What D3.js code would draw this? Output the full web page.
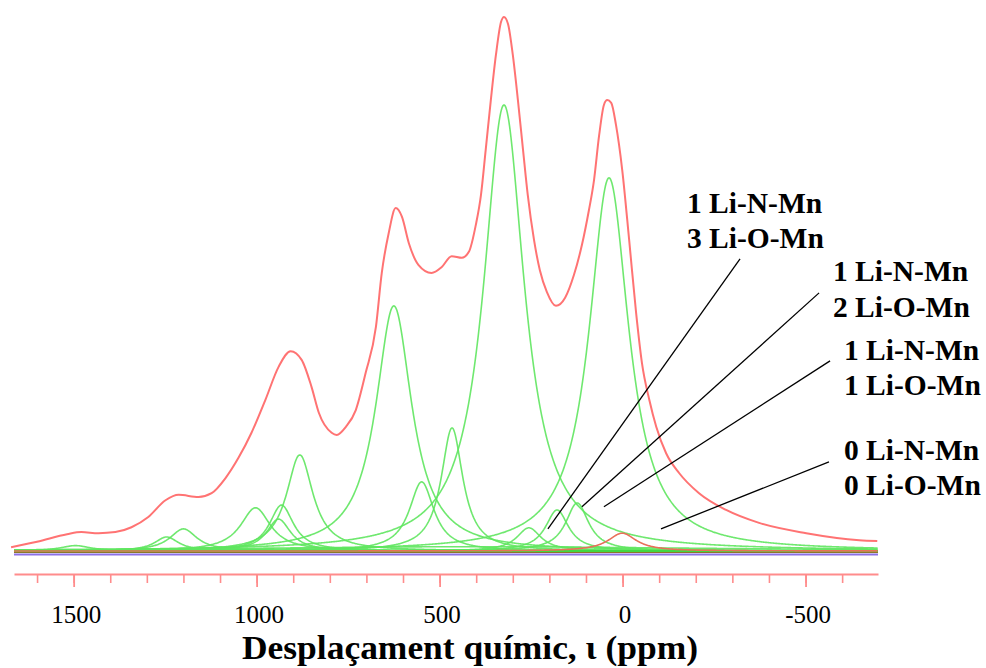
<!DOCTYPE html>
<html>
<head>
<meta charset="utf-8">
<script src="https://cdn.jsdelivr.net/npm/d3@7"></script>
<style>
  html, body { margin: 0; padding: 0; background: #fff; }
  svg { display: block; }
</style>
</head>
<body>
<svg id="chart" width="986" height="668"></svg>
<script>
// ---------- DATA ----------
// Axis extent (ppm) and tick values
const axisStart = 1663;
const axisEnd = -698;
const majorTicks = [1500, 1000, 500, 0, -500];
const minorTicks = d3.range(-600, 1601, 100);

// Experimental / total envelope (red): chemical shift (ppm) and intensity
const envelopePpm = [1671, 1600, 1518, 1479, 1432, 1386, 1342, 1296, 1249, 1213, 1159, 1123, 1085, 1050, 1014,
  976, 940, 907, 877, 850, 830, 795, 781, 756, 729, 702, 674, 658, 639, 620, 603, 584, 558, 522, 494, 467, 439,
  420, 401, 387, 374, 360, 346, 332, 324, 313, 300, 286, 272, 259, 242, 226, 207, 182, 157, 133, 111, 92, 78,
  64, 51, 42, 31, 18, 1, -18, -37, -53, -73, -92, -119, -155, -209, -283, -373, -502, -647, -696];
const envelopeIntensity = [0.7, 1.7, 3.1, 3.5, 3.3, 3.5, 4.4, 6.3, 9.4, 10.4, 10.0, 10.7, 13.5, 17.2, 21.9,
  28.0, 34.1, 37.0, 35.4, 30.4, 25.6, 21.9, 21.5, 23.0, 26.1, 33.0, 41.5, 51.5, 58.9, 63.5, 61.9, 57.0, 53.0, 51.5, 52.6, 54.6, 54.3,
  55.4, 60.4, 65.9, 74.3, 83.5, 91.9, 98.0, 98.9, 97.6, 91.9, 83.5, 74.3, 65.9, 57.6, 52.0, 48.0, 45.4, 46.9, 51.1, 56.7, 63.1, 68.7,
  77.0, 82.6, 83.5, 83.0, 78.9, 70.6, 57.6, 44.1, 34.8, 28.0, 23.0, 18.1, 14.4, 10.7, 7.6, 5.2, 3.3, 2.0, 1.85];

// Fitted components (green): centre (ppm), height, half width (ppm)
const compCenter = [324, 37, 625, 466, 882, 549, 1003, 932, 940, 1200, 1246, 1495, 124, 179, 256, 400];
const compHeight = [82.6, 69.1, 45.4, 22.8, 17.8, 12.8, 8.0, 8.5, 5.9, 4.1, 2.6, 1.0, 8.9, 7.6, 4.3, 0.8];
const compWidth  = [68, 66, 60, 36, 44, 41, 50, 40, 40, 45, 40, 50, 38, 38, 40, 800];

// Component for 0 Li-N-Mn / 0 Li-O-Mn (red)
const zeroCenter = [1];
const zeroHeight = [3.3];
const zeroWidth  = [47];

// Annotations
const labelLine1 = ["1 Li-N-Mn", "1 Li-N-Mn", "1 Li-N-Mn", "0 Li-N-Mn"];
const labelLine2 = ["3 Li-O-Mn", "2 Li-O-Mn", "1 Li-O-Mn", "0 Li-O-Mn"];
const labelPpm = [-176, -575, -605, -605];
const labelInt = [62.6, 50.0, 35.4, 16.9];
const leaderFromPpm = [-321, -537, -567, -564];
const leaderFromInt = [54.1, 47.8, 35.2, 16.5];
const leaderToPpm = [204, 111, 51, -105];
const leaderToInt = [4.1, 8.2, 8.2, 4.1];

const xTitle = "Desplaçament químic, ι (ppm)";

// ---------- DRAWING ----------
const SERIF = '"Liberation Serif", "Times New Roman", Times, serif';
const svg = d3.select("#chart");
const x = d3.scaleLinear().domain([axisStart, axisEnd]).range([14, 878]);
const y = d3.scaleLinear().domain([0, 100]).range([551, 11]);

const grid = d3.range(axisStart, axisEnd - 1, -2);
function lorentz(c, h, w) {
  return grid.map(p => [p, h / (1 + ((p - c) / w) ** 2)]);
}
const line = d3.line().x(d => x(d[0])).y(d => y(d[1]));

// baseline lines
const base = svg.append("g");
base.append("line").attr("x1", x(axisStart)).attr("x2", x(axisEnd))
  .attr("y1", y(0) + 3.5).attr("y2", y(0) + 3.5).attr("stroke", "#8c70e6").attr("stroke-width", 2);
base.append("line").attr("x1", x(axisStart)).attr("x2", x(axisEnd))
  .attr("y1", y(0) + 1.5).attr("y2", y(0) + 1.5).attr("stroke", "#8a7a2a").attr("stroke-width", 1.2);

// components
const comps = svg.append("g");
compCenter.forEach((c, i) => {
  comps.append("path")
    .attr("d", line(lorentz(c, compHeight[i], compWidth[i])))
    .attr("fill", "none").attr("stroke", "#5fe65f").attr("stroke-width", 1.6).attr("opacity", 0.9);
});
comps.append("line").attr("x1", x(axisStart)).attr("x2", x(axisEnd))
  .attr("y1", y(0)).attr("y2", y(0)).attr("stroke", "#3ad23a").attr("stroke-width", 1.5);
zeroCenter.forEach((c, i) => {
  comps.append("path")
    .attr("d", line(lorentz(c, zeroHeight[i], zeroWidth[i])))
    .attr("fill", "none").attr("stroke", "#e8705a").attr("stroke-width", 1.6);
});

// envelope
const envData = envelopePpm.map((p, i) => [p, envelopeIntensity[i]]);
svg.append("path")
  .attr("d", d3.line().x(d => x(d[0])).y(d => y(d[1])).curve(d3.curveMonotoneX)(envData))
  .attr("fill", "none").attr("stroke", "#ff7373").attr("stroke-width", 2);

// axis
const axisY = 574;
const gMinor = svg.append("g").attr("transform", `translate(0,${axisY})`)
  .call(d3.axisBottom(x).tickValues(minorTicks).tickSize(9).tickSizeOuter(0).tickFormat(""));
gMinor.select(".domain").attr("stroke", "#ff8c8c").attr("stroke-width", 2.2);
gMinor.selectAll(".tick line").attr("stroke", "#ff8c8c").attr("stroke-width", 1.6);

const gMajor = svg.append("g").attr("transform", `translate(0,${axisY})`)
  .call(d3.axisBottom(x).tickValues(majorTicks).tickSize(13).tickSizeOuter(0).tickPadding(18)
    .tickFormat(d => String(d)));
gMajor.attr("font-family", SERIF).attr("font-size", 25);
gMajor.select(".domain").remove();
gMajor.selectAll(".tick line").attr("stroke", "#ff8c8c").attr("stroke-width", 1.8);
gMajor.selectAll(".tick text")
  .attr("fill", "#000")
  .attr("dx", 2)
  .attr("font-family", SERIF)
  .attr("font-size", 25);

svg.append("text")
  .attr("x", 470).attr("y", 659)
  .attr("text-anchor", "middle")
  .attr("font-family", SERIF)
  .attr("font-size", 33).attr("font-weight", "bold")
  .attr("textLength", 456).attr("lengthAdjust", "spacingAndGlyphs")
  .text(xTitle);

// leaders
labelPpm.forEach((p, i) => {
  svg.append("line")
    .attr("x1", x(leaderFromPpm[i])).attr("y1", y(leaderFromInt[i]))
    .attr("x2", x(leaderToPpm[i])).attr("y2", y(leaderToInt[i]))
    .attr("stroke", "#000").attr("stroke-width", 1.3);
  const t = svg.append("text")
    .attr("x", x(p)).attr("y", y(labelInt[i]))
    .attr("font-family", SERIF)
    .attr("font-size", 29.5).attr("font-weight", "bold");
  t.append("tspan").attr("x", x(p)).text(labelLine1[i]);
  t.append("tspan").attr("x", x(p)).attr("dy", 35.5).text(labelLine2[i]);
});
</script>
</body>
</html>
